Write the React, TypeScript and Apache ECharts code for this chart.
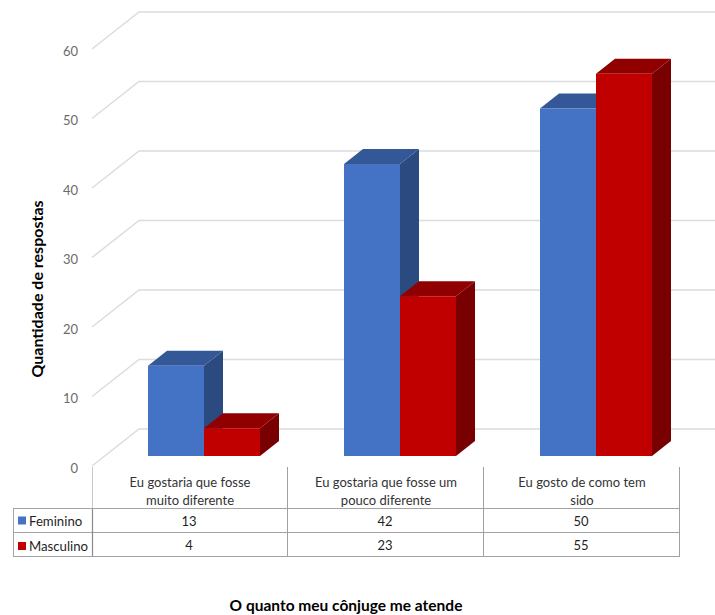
import React, { useEffect, useRef } from "react";
import * as echarts from "echarts";

const categories = [
  "Eu gostaria que fosse\nmuito diferente",
  "Eu gostaria que fosse um\npouco diferente",
  "Eu gosto de como tem\nsido",
];
const feminino = [13, 42, 50];
const masculino = [4, 23, 55];
const yTicks = [0, 10, 20, 30, 40, 50, 60];
const seriesNames = ["Feminino", "Masculino"];
const xTitle = "O quanto meu cônjuge me atende";
const yTitle = "Quantidade de respostas";

const FONT = "Lato, 'Open Sans', sans-serif";
const GRID = { left: 92, top: 49, width: 588, height: 417 };
const WALL = { dx: 47, dy: -37, right: 715 };
const BAR = { width: 56, dx: 19, dy: -15, lift: 10, shift: 14 };
const TABLE = { left: 13, headTop: 467, rows: [508.5, 532.5, 556.5] };
const LINE = "#a3a3a3";

// Draws one extruded column: side and top faces first, then the front.
const barRenderer =
  (seriesIndex: number, front: string, top: string, side: string) =>
  (_: unknown, api: any) => {
    const [cx, yTop] = api.coord([api.value(0), api.value(1)]);
    const [, y0] = api.coord([api.value(0), 0]);
    const x0 = cx + BAR.shift + (seriesIndex === 0 ? -BAR.width : 0);
    const x1 = x0 + BAR.width;
    const yt = yTop - BAR.lift;
    const yb = y0 - BAR.lift;
    const { dx, dy } = BAR;
    const face = (points: number[][], fill: string) => ({
      type: "polygon",
      shape: { points },
      style: { fill },
    });
    return {
      type: "group",
      children: [
        face([[x1, yt], [x1 + dx, yt + dy], [x1 + dx, yb + dy], [x1, yb]], side),
        face([[x0, yt], [x0 + dx, yt + dy], [x1 + dx, yt + dy], [x1, yt]], top),
        face([[x0, yt], [x1, yt], [x1, yb], [x0, yb]], front),
      ],
    };
  };

// Floor diagonal plus the back-wall rule for one value of the vertical scale.
const wallRenderer = (_: unknown, api: any) => {
  const v = api.value(0);
  const [x, y] = api.coord([0, v]);
  const left = x - (api.size([1, 0])[0] as number) / 2;
  return {
    type: "polyline",
    shape: {
      points: [
        [left, y],
        [left + WALL.dx, y + WALL.dy],
        [WALL.right, y + WALL.dy],
      ],
    },
    style: { stroke: "#dcdcdc", lineWidth: 1.5, fill: "none" },
  };
};

const tableGraphics = () => {
  const band = GRID.width / categories.length;
  const edges = categories.map((_, i) => GRID.left + band * (i + 1));
  const gridRight = GRID.left + GRID.width;
  const line = (x1: number, y1: number, x2: number, y2: number, stroke = LINE, lineWidth = 1) => ({
    type: "line",
    shape: { x1, y1, x2, y2 },
    style: { stroke, lineWidth },
    silent: true,
  });
  const out: any[] = [];
  TABLE.rows.forEach((y) => out.push(line(TABLE.left, y, gridRight, y)));
  out.push(line(TABLE.left + 0.5, TABLE.rows[0], TABLE.left + 0.5, TABLE.rows[2]));
  out.push(line(GRID.left + 0.5, TABLE.headTop, GRID.left + 0.5, TABLE.rows[0], "#c8c8c8"));
  out.push(line(GRID.left + 0.5, TABLE.rows[0], GRID.left + 0.5, TABLE.rows[2], "#8a8a8a", 1.2));
  edges.forEach((x) => out.push(line(x - 0.5, TABLE.headTop, x - 0.5, TABLE.rows[2], "#a0a0a0")));
  [feminino, masculino].forEach((values, r) => {
    const yc = (TABLE.rows[r] + TABLE.rows[r + 1]) / 2 + 0.5;
    values.forEach((v, i) =>
      out.push({
        type: "text",
        x: GRID.left + band * (i + 0.5) - 1,
        y: yc,
        style: {
          text: String(v),
          fill: "#1f1f1f",
          font: `13px ${FONT}`,
          textAlign: "center",
          textVerticalAlign: "middle",
        },
      })
    );
  });
  out.push({
    type: "text",
    x: 36,
    y: 289,
    rotation: Math.PI / 2,
    style: {
      text: yTitle,
      fill: "#000",
      font: `bold 16px ${FONT}`,
      textAlign: "center",
      textVerticalAlign: "middle",
    },
  });
  return out;
};

export default function App() {
  const ref = useRef<HTMLDivElement>(null);

  useEffect(() => {
    const chart = echarts.init(ref.current!, undefined, { renderer: "svg" });
    chart.setOption({
      animation: false,
      backgroundColor: "#ffffff",
      title: {
        text: xTitle,
        left: 346,
        top: 597,
        textAlign: "center",
        padding: 0,
        textStyle: { fontFamily: FONT, fontSize: 15.5, fontWeight: "bold", color: "#000" },
      },
      legend: {
        data: seriesNames,
        orient: "vertical",
        left: 18,
        top: 514,
        padding: 0,
        itemWidth: 8,
        itemHeight: 8,
        itemGap: 12.5,
        icon: "rect",
        selectedMode: false,
        textStyle: { fontFamily: FONT, fontSize: 13.2, color: "#1f1f1f", padding: [0, 0, 0, -2] },
      },
      grid: GRID,
      xAxis: {
        type: "category",
        data: categories,
        axisLine: { show: false },
        axisTick: { show: false },
        axisLabel: {
          interval: 0,
          margin: 7,
          fontFamily: FONT,
          fontSize: 13,
          lineHeight: 18,
          color: "#333333",
        },
      },
      yAxis: {
        type: "value",
        min: yTicks[0],
        max: yTicks[yTicks.length - 1],
        interval: 10,
        axisLine: { show: false },
        axisTick: { show: false },
        splitLine: { show: false },
        axisLabel: {
          margin: 14,
          fontFamily: FONT,
          fontSize: 13,
          color: "#6b6b6b",
          verticalAlign: "top",
          lineHeight: 3,
        },
      },
      graphic: tableGraphics(),
      series: [
        {
          type: "custom",
          name: "walls",
          silent: true,
          renderItem: wallRenderer,
          data: yTicks.map((v) => [v]),
          encode: { y: 0 },
        },
        {
          type: "custom",
          name: seriesNames[0],
          itemStyle: { color: "#4472c4" },
          renderItem: barRenderer(0, "#4472c4", "#345797", "#2b4a80"),
          data: feminino.map((v, i) => [i, v]),
          encode: { x: 0, y: 1 },
        },
        {
          type: "custom",
          name: seriesNames[1],
          itemStyle: { color: "#c00000" },
          renderItem: barRenderer(1, "#c00000", "#900000", "#780000"),
          data: masculino.map((v, i) => [i, v]),
          encode: { x: 0, y: 1 },
        },
      ],
    });
    return () => chart.dispose();
  }, []);

  return (
    <div
      ref={ref}
      style={{ position: "absolute", left: 0, top: 0, width: 715, height: 615 }}
    />
  );
}
